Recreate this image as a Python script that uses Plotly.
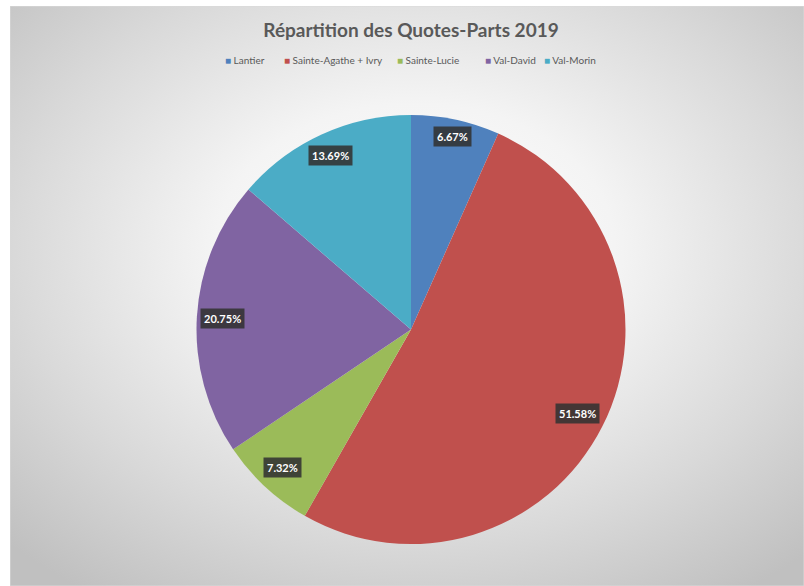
import base64
import math
import plotly.graph_objects as go

# Data
municipalites = ["Lantier", "Sainte-Agathe + Ivry", "Sainte-Lucie", "Val-David", "Val-Morin"]
quotes_parts = [6.67, 51.58, 7.32, 20.75, 13.69]
couleurs = ["#4F81BD", "#C0504D", "#9BBB59", "#8064A2", "#4BACC6"]

# Label placement (fraction of radius from the centre, along each slice's mid-angle)
label_radius = [0.92, 0.87, 0.88, 0.88, 0.895]
# Left edge (px) of each legend entry
legend_left = [223, 282, 395, 483, 542]

W, H = 804, 586
cx, cy, R = 411, 329.5, 214.5
FONT = "Lato, Open Sans, sans-serif"

fig = go.Figure()
fig.add_trace(go.Pie(
    labels=municipalites,
    values=quotes_parts,
    sort=False,
    direction="clockwise",
    rotation=0,
    marker=dict(colors=couleurs, line=dict(width=0)),
    textinfo="none",
    hoverinfo="label+percent",
    showlegend=False,
    domain=dict(x=[(cx - R) / W, (cx + R) / W], y=[1 - (cy + R) / H, 1 - (cy - R) / H]),
))

total = sum(quotes_parts)
cum = 0
annotations = []
for v, fr in zip(quotes_parts, label_radius):
    mid = (cum + v / 2) / total * 360
    cum += v
    a = math.radians(mid)
    px = cx + fr * R * math.sin(a)
    py = cy - fr * R * math.cos(a)
    annotations.append(dict(
        x=px / W, y=1 - py / H, xref="paper", yref="paper",
        text=f"<b>{v:.2f}%</b>", showarrow=False,
        font=dict(family=FONT, size=11, color="white"),
        bgcolor="rgba(50,50,50,0.88)", borderpad=3,
        xanchor="center", yanchor="middle",
    ))

# Compact legend row: coloured square + name
for name, col, lx in zip(municipalites, couleurs, legend_left):
    annotations.append(dict(
        x=lx / W, y=1 - 60 / H, xref="paper", yref="paper",
        text=f"<span style='color:{col}'>■</span> {name}", showarrow=False,
        font=dict(family=FONT, size=10, color="#595959"),
        xanchor="left", yanchor="middle",
    ))

# Radial grey background panel
svg = f"""<svg xmlns='http://www.w3.org/2000/svg' width='794' height='580' viewBox='0 0 794 580' preserveAspectRatio='none'>
<defs><radialGradient id='g' cx='51%' cy='42%' r='72%'>
<stop offset='0' stop-color='#ffffff'/>
<stop offset='0.35' stop-color='#f4f4f4'/>
<stop offset='0.7' stop-color='#d9d9d9'/>
<stop offset='1' stop-color='#c0c0c0'/>
</radialGradient></defs>
<rect x='0' y='0' width='794' height='580' fill='url(#g)' stroke='#d9d9d9' stroke-width='1'/>
</svg>"""
src = "data:image/svg+xml;base64," + base64.b64encode(svg.encode()).decode()

fig.update_layout(
    width=W, height=H,
    margin=dict(l=0, r=0, t=0, b=0),
    paper_bgcolor="white",
    plot_bgcolor="white",
    images=[dict(source=src, xref="paper", yref="paper", x=10 / W, y=1 - 6 / H,
                 sizex=(W - 10) / W, sizey=(H - 6) / H, xanchor="left", yanchor="top",
                 sizing="stretch", layer="below")],
    title=dict(
        text="<b>Répartition des Quotes-Parts 2019</b>",
        x=411 / W, xanchor="center", y=1 - 30 / H, yanchor="middle",
        font=dict(family=FONT, size=19, color="#595959"),
    ),
    annotations=annotations,
)

fig.write_html("out.html")
